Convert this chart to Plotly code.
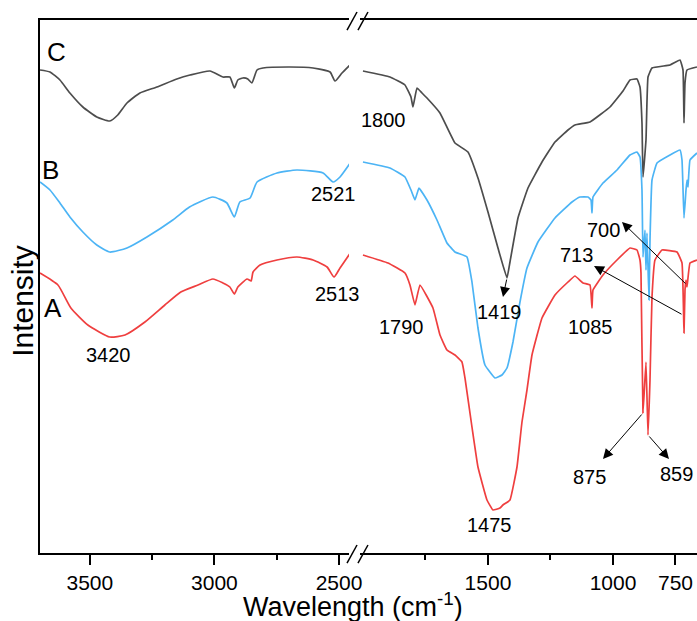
import plotly.graph_objects as go

# FTIR spectra, split axis: 3700-2460 cm-1 on the left, 2012-664 cm-1 on the right
# intensities are arbitrary (offset) units

# sample C (gray)
c_wn_hi = [3700, 3660, 3620, 3580, 3528, 3472, 3420, 3388, 3351, 3299, 3231, 3151, 3098, 3018,
           2966, 2938, 2920, 2906, 2886, 2866, 2850, 2829, 2805, 2697, 2604, 2536, 2516, 2488, 2452]
c_int_hi = [483, 481, 473, 460, 446, 436, 432, 438, 450, 460, 466, 474, 478, 482,
            476, 476, 465, 473, 475, 474, 470, 483, 485, 486, 485, 481, 472, 480, 489]
c_wn_lo = [2000, 1892, 1832, 1808, 1800, 1784, 1764, 1744, 1692, 1632, 1580, 1540, 1500, 1460,
           1424, 1412, 1380, 1340, 1284, 1232, 1180, 1152, 1092, 1012, 960, 932, 904, 892, 884,
           880, 868, 860, 844, 772, 732, 720, 716, 712, 704, 664]
c_int_lo = [482, 476, 468, 456, 446, 465, 460, 455, 440, 410, 401, 375, 341, 305,
            275, 291, 335, 365, 391, 411, 423, 428, 431, 446, 462, 473, 474, 466, 430,
            376, 413, 476, 485, 488, 493, 483, 430, 470, 483, 486]

# sample B (blue)
b_wn_hi = [3700, 3660, 3620, 3580, 3528, 3472, 3420, 3351, 3271, 3167, 3100, 3006, 2950, 2920,
           2898, 2857, 2829, 2749, 2669, 2564, 2524, 2496, 2452]
b_int_hi = [371, 363, 350, 336, 321, 308, 301, 305, 316, 333, 346, 356, 350, 336,
            351, 355, 371, 380, 383, 380, 371, 376, 391]
b_wn_lo = [2000, 1892, 1832, 1808, 1792, 1776, 1744, 1704, 1664, 1632, 1584, 1564, 1540, 1512,
           1472, 1444, 1424, 1400, 1372, 1344, 1300, 1232, 1164, 1132, 1100, 1088, 1084, 1080,
           1040, 984, 932, 904, 892, 884, 880, 872, 868, 864, 856, 852, 844, 824, 772, 732,
           724, 716, 708, 704, 700, 692, 664]
b_int_lo = [391, 385, 376, 363, 353, 365, 353, 333, 310, 301, 296, 271, 225, 188,
            175, 178, 185, 211, 251, 285, 311, 335, 351, 356, 356, 353, 340, 356,
            370, 383, 398, 401, 396, 363, 296, 323, 283, 320, 253, 313, 373, 390, 398, 403,
            393, 335, 363, 373, 366, 393, 400]

# sample A (red)
a_wn_hi = [3700, 3628, 3576, 3508, 3420, 3359, 3279, 3199, 3135, 3066, 3006, 2966, 2938, 2920,
           2906, 2869, 2853, 2845, 2817, 2749, 2669, 2604, 2548, 2520, 2496, 2452]
a_int_hi = [280, 268, 245, 228, 216, 218, 231, 248, 261, 268, 274, 270, 266, 259,
            266, 274, 272, 281, 288, 293, 296, 293, 286, 276, 285, 301]
a_wn_lo = [2000, 1900, 1832, 1812, 1792, 1772, 1720, 1692, 1664, 1632, 1604, 1592, 1564, 1540,
           1504, 1480, 1452, 1440, 1412, 1384, 1364, 1344, 1324, 1284, 1232, 1180, 1152, 1120,
           1092, 1084, 1080, 1040, 984, 932, 904, 892, 888, 880, 868, 860, 852, 844, 832, 804,
           744, 724, 716, 712, 708, 704, 692, 664]
a_int_lo = [298, 290, 280, 268, 248, 268, 245, 218, 203, 198, 191, 175, 126, 86,
            53, 43, 45, 48, 53, 86, 131, 163, 198, 235, 258, 271, 277, 270,
            268, 245, 263, 278, 293, 305, 303, 293, 280, 140, 191, 118, 173, 256, 293, 303,
            301, 290, 220, 263, 273, 266, 290, 293]

COL_C = "#4d4d4d"
COL_B = "#4cb4f5"
COL_A = "#ef3f3f"
FONT = "Arial, 'Liberation Sans', sans-serif"

fig = go.Figure()
for wh, ih, wl, il, col in [(c_wn_hi, c_int_hi, c_wn_lo, c_int_lo, COL_C),
                            (b_wn_hi, b_int_hi, b_wn_lo, b_int_lo, COL_B),
                            (a_wn_hi, a_int_hi, a_wn_lo, a_int_lo, COL_A)]:
    fig.add_trace(go.Scatter(x=wh, y=ih, mode="lines",
                             line=dict(color=col, width=1.7, shape="spline", smoothing=0.5),
                             xaxis="x", yaxis="y", showlegend=False))
    fig.add_trace(go.Scatter(x=wl, y=il, mode="lines",
                             line=dict(color=col, width=1.7, shape="spline", smoothing=0.3),
                             xaxis="x2", yaxis="y", showlegend=False))

ax_style = dict(showline=True, linecolor="black", linewidth=1.5, mirror=True,
                ticks="outside", ticklen=10, tickwidth=1.5, tickcolor="black",
                showgrid=False, zeroline=False, automargin=False,
                tickfont=dict(family=FONT, size=21, color="black"))

fig.update_layout(
    width=697, height=621, autosize=False,
    margin=dict(l=40, r=0, t=20, b=68, autoexpand=False),
    paper_bgcolor="white", plot_bgcolor="white",
    xaxis=dict(domain=[0, 0.4703], range=[3700, 2460], tickmode="array",
               tickvals=[3500, 3000, 2500],
               minor=dict(tickmode="array", tickvals=[3250, 2750], ticks="outside",
                          ticklen=5, tickwidth=1.5, tickcolor="black"),
               **ax_style),
    xaxis2=dict(domain=[0.487, 1], range=[2012, 664], anchor="y", tickmode="array",
                tickvals=[1500, 1000, 750],
                minor=dict(tickmode="array", tickvals=[1750, 1250], ticks="outside",
                           ticklen=5, tickwidth=1.5, tickcolor="black"),
                **ax_style),
    yaxis=dict(range=[0, 533], showline=True, linecolor="black", linewidth=1.5,
               showticklabels=False, ticks="", showgrid=False, zeroline=False),
)

# axis break marks "//"
for y0, y1 in [(-0.0188, 0.0150), (0.9812, 1.015)]:
    for x0 in [0.4673, 0.4840]:
        fig.add_shape(type="line", xref="paper", yref="paper", x0=x0, x1=x0 + 0.0152,
                      y0=y0, y1=y1, line=dict(color="black", width=1.5))

# peak labels
labels = [
    ("x", 3632, 501, "C", 26), ("x", 3657, 383, "B", 26), ("x", 3649, 245, "A", 26),
    ("x", 3424, 198, "3420", 20), ("x", 2524, 359, "2521", 20), ("x", 2508, 259, "2513", 20),
    ("x2", 1916, 433, "1800", 20), ("x2", 1844, 226, "1790", 20), ("x2", 1452, 241, "1419", 20),
    ("x2", 1492, 28, "1475", 20), ("x2", 1088, 226, "1085", 20), ("x2", 1144, 298, "713", 20),
    ("x2", 1036, 323, "700", 20), ("x2", 1092, 76, "875", 20), ("x2", 744, 79, "859", 20),
]
for xr, xv, yv, txt, sz in labels:
    fig.add_annotation(xref=xr, yref="y", x=xv, y=yv, text=txt, showarrow=False,
                       font=dict(family=FONT, size=sz, color="black"))

# arrows: (tail wn, tail int) -> (head wn, head int)
arrows = [
    (1424, 275, 1440, 256),
    (704, 268, 964, 331),
    (720, 238, 1076, 287),
    (880, 140, 1040, 94),
    (860, 118, 776, 94),
]
for tx, ty, hx, hy in arrows:
    fig.add_annotation(xref="x2", yref="y", axref="x2", ayref="y", x=hx, y=hy, ax=tx, ay=ty,
                       text="", showarrow=True, arrowhead=2, arrowsize=2, arrowwidth=1,
                       arrowcolor="black")

fig.add_annotation(xref="paper", yref="paper", x=0.476, y=-0.097, xanchor="center",
                   yanchor="middle", text="Wavelength (cm<sup>-1</sup>)", showarrow=False,
                   font=dict(family=FONT, size=27, color="black"))
fig.add_annotation(xref="paper", yref="paper", x=-0.0259, y=0.473, xanchor="center",
                   yanchor="middle", textangle=-90, text="Intensity", showarrow=False,
                   font=dict(family=FONT, size=30, color="black"))

fig.write_html("out.html", config={"displayModeBar": False, "responsive": False},
               post_script="document.body.style.margin='0';"
                           "document.body.style.overflow='hidden';")
